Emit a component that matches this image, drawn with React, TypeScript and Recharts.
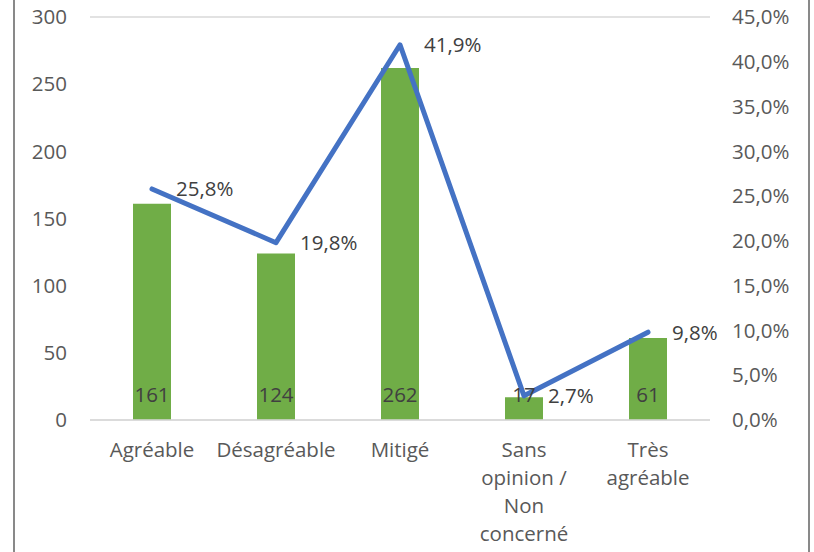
import React from "react";
import { ComposedChart, Bar, Line, XAxis, YAxis, CartesianGrid, LabelList } from "recharts";

const categories = ["Agréable", "Désagréable", "Mitigé", "Sans opinion / Non concerné", "Très agréable"];
const tickLines = [["Agréable"], ["Désagréable"], ["Mitigé"], ["Sans", "opinion /", "Non", "concerné"], ["Très", "agréable"]];
const counts = [161, 124, 262, 17, 61];
const percents = [25.8, 19.8, 41.9, 2.7, 9.8];
const leftTicks = [0, 50, 100, 150, 200, 250, 300];
const rightTicks = [0, 5, 10, 15, 20, 25, 30, 35, 40, 45];

const data = categories.map((c, i) => ({ name: c, count: counts[i], pct: percents[i] }));

const FONT = "'Open Sans', sans-serif";
const FS = 20.5;
const fmtPct = (v: number) => v.toFixed(1).replace(".", ",") + "%";

const XTick = (props: any) => {
  const { x, y, index } = props;
  const lines = tickLines[index] || [];
  return (
    <text x={x} y={y} textAnchor="middle" fill="#595959" fontSize={FS} fontFamily={FONT}>
      {lines.map((l: string, i: number) => (
        <tspan key={i} x={x} dy={i === 0 ? 37 : 28}>{l}</tspan>
      ))}
    </text>
  );
};

export default function App() {
  return (
    <div style={{ position: "absolute", left: 0, top: 0, width: 814, height: 552, background: "#fff", overflow: "hidden" }}>
      <div style={{ position: "absolute", left: 13, top: -10, width: 793, height: 600, borderLeft: "2px solid #898989", borderRight: "2px solid #898989" }} />
      <div style={{ position: "absolute", left: 0, top: 0 }}>
        <ComposedChart width={814} height={552} data={data} margin={{ top: 17, right: 0, left: 0, bottom: 0 }}>
          <CartesianGrid vertical={false} stroke="#d9d9d9" strokeWidth={1.5} />
          <XAxis dataKey="name" interval={0} height={132} tickSize={0} tickMargin={0} axisLine={{ stroke: "#d9d9d9", strokeWidth: 1.5 }} tickLine={false} tick={<XTick />} />
          <YAxis yAxisId="left" width={90} domain={[0, 300]} ticks={leftTicks} tickSize={0} tickMargin={23} axisLine={false} tickLine={false}
            tick={{ fill: "#595959", fontSize: FS, fontFamily: FONT }} />
          <YAxis yAxisId="right" orientation="right" width={104} domain={[0, 45]} ticks={rightTicks} tickSize={0} tickMargin={22} axisLine={false} tickLine={false}
            tickFormatter={fmtPct} tick={{ fill: "#595959", fontSize: FS, fontFamily: FONT, textAnchor: "start" }} />
          <Bar yAxisId="left" dataKey="count" fill="#70AD47" barSize={38} isAnimationActive={false}>
            <LabelList dataKey="count" position="insideBottom" offset={18} fill="#404040" fontSize={FS} fontFamily={FONT} />
          </Bar>
          <Line yAxisId="right" dataKey="pct" stroke="#4472C4" strokeWidth={5} dot={false} activeDot={false} strokeLinecap="round" strokeLinejoin="round" isAnimationActive={false}>
            <LabelList dataKey="pct" position="right" offset={24} formatter={fmtPct as any} fill="#404040" fontSize={FS} fontFamily={FONT} />
          </Line>
        </ComposedChart>
      </div>
    </div>
  );
}
